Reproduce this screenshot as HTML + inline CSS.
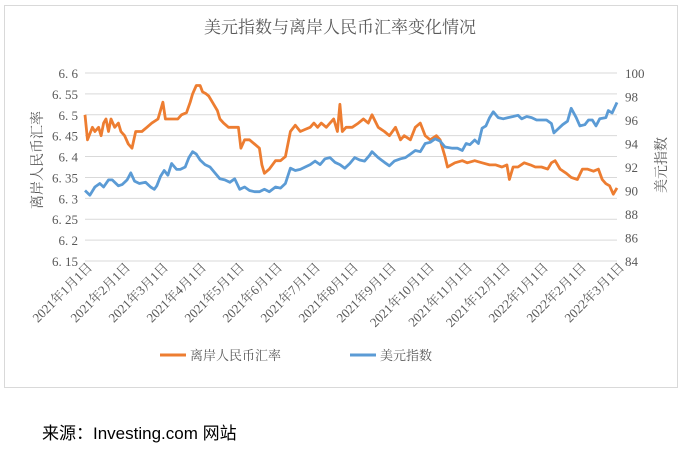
<!DOCTYPE html>
<html><head><meta charset="utf-8"><style>
body{margin:0;background:#fff;width:686px;height:450px;overflow:hidden;font-family:"Liberation Serif","Noto Serif CJK SC",serif;}
</style></head><body>
<svg width="686" height="450" viewBox="0 0 686 450" id="svg">
<rect x="4.5" y="5.5" width="673" height="382" fill="#fff" stroke="#d9d9d9"/>
<text x="340" y="33" font-size="17" fill="#595959" text-anchor="middle">美元指数与离岸人民币汇率变化情况</text>
<text transform="translate(42,160) rotate(-90)" font-size="14" fill="#595959" text-anchor="middle">离岸人民币汇率</text>
<text transform="translate(666,165) rotate(-90)" font-size="14" fill="#595959" text-anchor="middle">美元指数</text>
<g id="grid"></g><g id="xl"></g><g id="series"></g>
<line x1="160" y1="355" x2="186" y2="355" stroke="#ED7D31" stroke-width="3"/>
<text x="190" y="360" font-size="13" fill="#595959">离岸人民币汇率</text>
<line x1="350" y1="355" x2="376" y2="355" stroke="#5B9BD5" stroke-width="3"/>
<text x="380" y="360" font-size="13" fill="#595959">美元指数</text>
<text x="42" y="439" font-size="17" fill="#000" style="font-family:'Liberation Sans','Noto Sans CJK SC',sans-serif">来源：Investing.com 网站</text>
</svg>
<script>
const leftTicks=[6.6,6.55,6.5,6.45,6.4,6.35,6.3,6.25,6.2,6.15];
const leftLabels=["6. 6","6. 55","6. 5","6. 45","6. 4","6. 35","6. 3","6. 25","6. 2","6. 15"];
const rightTicks=[100,98,96,94,92,90,88,86,84];
const monthLabels=["2021年1月1日","2021年2月1日","2021年3月1日","2021年4月1日","2021年5月1日","2021年6月1日","2021年7月1日","2021年8月1日","2021年9月1日","2021年10月1日","2021年11月1日","2021年12月1日","2022年1月1日","2022年2月1日","2022年3月1日"];
const cnhDays=[0,2,6,8,11,13,15,17,19,21,24,27,29,32,35,38,41,46,50,54,59,63,65,70,75,78,82,85,87,90,93,95,98,100,103,107,109,112,116,119,124,126,129,133,137,141,143,145,149,154,158,162,166,170,174,178,182,185,188,191,195,198,201,204,206,208,211,216,221,225,229,232,237,242,246,251,255,258,263,267,271,275,279,284,287,291,293,299,305,309,315,321,327,332,337,341,343,346,350,355,360,364,369,374,377,380,384,389,393,398,402,406,411,415,418,421,424,427,430];
const cnhValues=[6.50,6.44,6.47,6.46,6.47,6.45,6.48,6.49,6.46,6.49,6.47,6.48,6.46,6.45,6.43,6.42,6.46,6.46,6.47,6.48,6.49,6.53,6.49,6.49,6.49,6.50,6.505,6.53,6.55,6.57,6.57,6.555,6.55,6.545,6.53,6.51,6.49,6.48,6.47,6.47,6.47,6.42,6.44,6.44,6.43,6.42,6.38,6.36,6.37,6.39,6.39,6.40,6.46,6.475,6.46,6.465,6.47,6.48,6.47,6.48,6.47,6.48,6.49,6.46,6.525,6.46,6.47,6.47,6.48,6.49,6.48,6.50,6.47,6.46,6.45,6.47,6.44,6.45,6.44,6.47,6.48,6.45,6.44,6.45,6.44,6.40,6.375,6.385,6.39,6.385,6.39,6.385,6.38,6.38,6.375,6.38,6.345,6.375,6.375,6.385,6.38,6.375,6.375,6.37,6.385,6.39,6.37,6.36,6.35,6.345,6.37,6.37,6.365,6.37,6.345,6.335,6.33,6.31,6.325];
const dxyDays=[0,4,8,12,15,19,22,27,30,34,37,40,44,49,53,56,58,61,64,67,70,74,77,81,84,87,90,93,97,101,105,109,113,117,121,125,129,133,137,141,145,149,154,158,162,166,170,174,178,182,186,190,194,198,202,206,210,214,218,222,226,230,232,237,242,246,250,255,259,263,267,271,275,279,283,287,291,297,301,305,308,311,315,318,321,324,327,330,334,338,342,346,350,353,357,361,365,369,373,377,379,382,386,390,393,397,400,404,407,410,413,416,421,423,426,430];
const dxyValues=[90.0,89.6,90.3,90.6,90.3,90.9,90.9,90.4,90.5,90.9,91.5,90.8,90.6,90.7,90.3,90.1,90.4,91.2,91.7,91.3,92.3,91.8,91.8,92.0,92.8,93.3,93.1,92.6,92.2,92.0,91.5,91.0,90.9,90.7,91.0,90.1,90.3,90.0,89.9,89.9,90.1,89.9,90.3,90.2,90.6,91.9,91.7,91.8,92.0,92.2,92.5,92.2,92.7,92.8,92.4,92.2,91.9,92.3,92.8,92.6,92.5,93.0,93.3,92.8,92.4,92.1,92.5,92.7,92.8,93.1,93.4,93.3,94.0,94.1,94.4,94.2,93.7,93.6,93.6,93.4,94.0,93.9,94.3,94.0,95.3,95.5,96.2,96.7,96.2,96.1,96.2,96.3,96.4,96.1,96.3,96.2,96.0,96.0,96.0,95.7,94.9,95.2,95.6,95.9,97.0,96.2,95.5,95.6,96.0,96.0,95.5,96.1,96.2,96.8,96.6,97.5];

const NS="http://www.w3.org/2000/svg";
const X0=85,X1=617,Y0=73,Y1=261,DMAX=430;
const xs=d=>X0+d/DMAX*(X1-X0);
const yL=v=>Y0+(6.6-v)/0.45*(Y1-Y0);
const yR=v=>Y0+(100-v)/16*(Y1-Y0);
function mk(tag,attrs,parent){const e=document.createElementNS(NS,tag);for(const k in attrs)e.setAttribute(k,attrs[k]);parent.appendChild(e);return e;}
const grid=document.getElementById('grid');
leftTicks.forEach((v,i)=>{
  const l=mk('line',{x1:X0,x2:X1,y1:yL(v),y2:yL(v),stroke:'#d9d9d9','stroke-width':1},grid);
  
  
  const t=mk('text',{x:X0-7,y:yL(v)+5,'font-size':13,fill:'#595959','text-anchor':'end'},grid);
  t.textContent=leftLabels[i];
  
  
});
rightTicks.forEach(v=>{
  const t=mk('text',{x:X1+8,y:yR(v)+5,'font-size':13,fill:'#595959'},grid);
  t.textContent=v;
  
  
});
const xl=document.getElementById('xl');
monthLabels.forEach((s,i)=>{
  const x=X0+1+i*(X1-X0)/(monthLabels.length-1);
  const t=mk('text',{transform:`translate(${x+7},268) rotate(-45)`,'font-size':13,fill:'#595959','text-anchor':'end'},xl);
  t.textContent=s;
  
  
});
const ser=document.getElementById('series');
const p1=mk('polyline',{points:cnhDays.map((d,i)=>xs(d).toFixed(1)+','+yL(cnhValues[i]).toFixed(1)).join(' '),fill:'none',stroke:'#ED7D31','stroke-width':2.8,'stroke-linejoin':'round'},ser);


const p2=mk('polyline',{points:dxyDays.map((d,i)=>xs(d).toFixed(1)+','+yR(dxyValues[i]).toFixed(1)).join(' '),fill:'none',stroke:'#5B9BD5','stroke-width':2.8,'stroke-linejoin':'round'},ser);


</script>
</body></html>
